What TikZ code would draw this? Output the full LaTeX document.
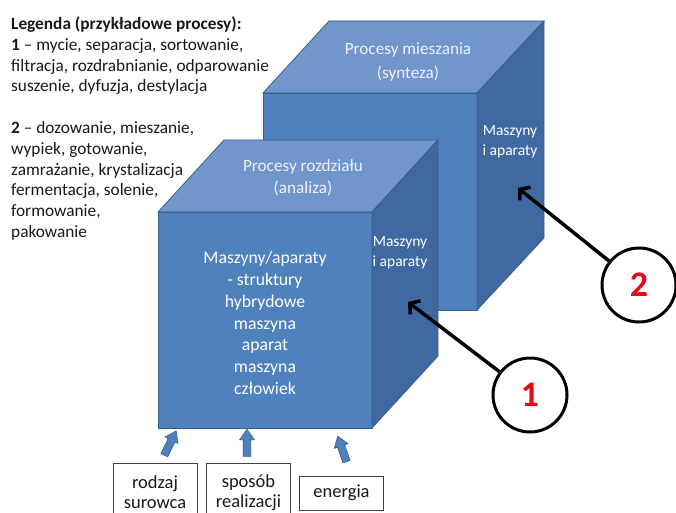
\documentclass[tikz,border=0pt]{standalone}
\usepackage{fontspec}
\setmainfont{Carlito}
\usetikzlibrary{arrows.meta,shapes.arrows}
\definecolor{frontblue}{RGB}{79,129,189}
\definecolor{topblue}{RGB}{112,150,204}
\definecolor{sideblue}{RGB}{64,105,162}
\definecolor{edgeblue}{RGB}{56,93,138}
\definecolor{legendgray}{RGB}{25,25,25}
\definecolor{digitred}{RGB}{230,10,20}

\begin{document}
\begin{tikzpicture}[x=1pt, y=-1pt]
    \tikzstyle{every node} = [align=center, inner sep=0pt]
    \tikzstyle{front} = [fill=frontblue, draw=edgeblue, line width=0.8pt]
    \tikzstyle{top} = [fill=topblue, draw=edgeblue, line width=0.8pt]
    \tikzstyle{side} = [fill=sideblue, draw=edgeblue, line width=0.8pt]
    \tikzstyle{facetext} = [text=white, font=\fontsize{17.7}{21.7}\selectfont]
    \tikzstyle{toptext} = [text=white!94!blue, font=\fontsize{17.2}{22}\selectfont]
    \tikzstyle{sidetext} = [text=white, font=\fontsize{15.5}{20}\selectfont]
    \tikzstyle{inputbox} = [draw=black!75, fill=white, line width=0.8pt, minimum width=84, text=legendgray, font=\fontsize{18.5}{20}\selectfont]
    \tikzstyle{inarrow} = [shape=single arrow, fill=frontblue, draw=edgeblue, line width=0.6pt, inner sep=3.5pt, minimum height=27, single arrow head extend=3.5pt, single arrow tip angle=70]
    \tikzstyle{marker} = [circle, draw=black, line width=3pt, minimum size=74, text=digitred, font=\bfseries\fontsize{36}{36}\selectfont]
    \tikzstyle{pointer} = [line width=3.5pt, -{Straight Barb[length=7pt, width=17pt]}]
    \clip (0,0) rectangle (676,513);

    % cube 2 - synteza
    \filldraw[front] (263,93) rectangle (477,310);
    \filldraw[top] (263,93) -- (329,21) -- (544,21) -- (477,93) -- cycle;
    \filldraw[side] (477,93) -- (544,21) -- (544,238) -- (477,310) -- cycle;
    \node[toptext, font=\fontsize{17.2}{24}\selectfont] (top2) at (408,62) {Procesy mieszania\\(synteza)};
    \node[sidetext] (side2) at (510,142) {Maszyny\\i aparaty};

    % cube 1 - analiza
    \filldraw[front] (158,212) rectangle (372,428);
    \filldraw[top] (158,212) -- (224,140) -- (438,140) -- (372,212) -- cycle;
    \filldraw[side] (372,212) -- (438,140) -- (438,356) -- (372,428) -- cycle;
    \node[toptext] (top1) at (303,177.5) {Procesy rozdziału\\(analiza)};
    \node[sidetext] (side1) at (400,253) {Maszyny\\i aparaty};
    \node[facetext] (face1) at (265,323) {Maszyny/aparaty\\- struktury\\hybrydowe\\maszyna\\aparat\\maszyna\\człowiek};

    % legenda
    \node[anchor=north west, align=left, text=legendgray, font=\fontsize{17.3}{20.8}\selectfont] (legend) at (11,16.5)
        {\textbf{Legenda (przykładowe procesy):}\\
         \textbf{1} – mycie, separacja, sortowanie,\\
         filtracja, rozdrabnianie, odparowanie\\
         suszenie, dyfuzja, destylacja\\[20.8pt]
         \textbf{2} – dozowanie, mieszanie,\\
         wypiek, gotowanie,\\
         zamrażanie, krystalizacja\\
         fermentacja, solenie,\\
         formowanie,\\
         pakowanie};

    % wejscia
    \node[inputbox, minimum height=58, anchor=north] (surowiec) at (155,463) {rodzaj\\surowca};
    \node[inputbox, minimum height=58, anchor=north] (sposob) at (248.5,463) {sposób\\realizacji};
    \node[inputbox, minimum height=34] (energia) at (341.5,493) {energia};
    \node[inarrow, rotate=64] (in1) at (169,445.5) {};
    \node[inarrow, rotate=90] (in2) at (247,445.5) {};
    \node[inarrow, rotate=109] (in3) at (343,451.5) {};

    % oznaczenia
    \node[marker] (c1) at (530,395) {1};
    \node[marker] (c2) at (639,285) {2};
    \coordinate (tip1) at (408,302);
    \coordinate (tip2) at (518,188);
    \draw[pointer] (c1) -- (tip1);
    \draw[pointer] (c2) -- (tip2);
\end{tikzpicture}
\end{document}
